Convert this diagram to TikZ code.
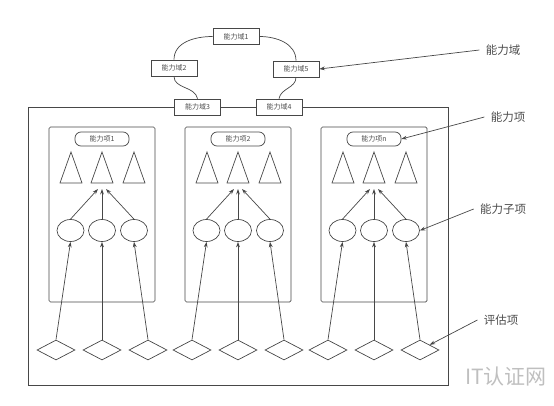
\documentclass[tikz,border=0pt]{standalone}
\usepackage[rgb]{xcolor}
\usepackage{fontspec}
\newfontfamily\cjk{Noto Sans CJK SC}
\usepackage{tikz}
\usetikzlibrary{shapes.geometric,arrows.meta}

\begin{document}
\begin{tikzpicture}[x=1pt, y=1pt, line width=0.7pt, draw=black!72, text=black!70,
  dom/.style={draw, fill=white, minimum width=46, minimum height=16, inner sep=0, font=\cjk\fontsize{7}{8}\selectfont},
  pill/.style={draw, rounded corners=6pt, minimum width=54, minimum height=14, inner sep=0, font=\cjk\fontsize{7}{8}\selectfont},
  sub/.style={draw, ellipse, minimum width=27, minimum height=22, inner sep=0},
  eval/.style={draw, diamond, minimum width=38, minimum height=20, inner sep=0},
  note/.style={font=\cjk\fontsize{11.5}{13}\selectfont, inner sep=6pt},
  arr/.style={-{Stealth[length=5.5pt, width=3.8pt]}, draw=black!72}]

\useasboundingbox (0,0) rectangle (554,405);

% outer frame of the capability model
\draw (28,20) rectangle (448,298);

% ring of capability domains on top
\path
(236,368.5) node[dom] (dom1) {能力域1}
(174,337) node[dom] (dom2) {能力域2}
(296,336) node[dom] (dom5) {能力域5}
(197.5,298) node[dom] (dom3) {能力域3}
(279,298) node[dom] (dom4) {能力域4};
\draw (dom1.west) to[out=180, in=90] (dom2.north);
\draw (dom2.south) to[out=-90, in=100] (dom3.north);
\draw (dom3) -- (dom4);
\draw (dom4.north) to[out=80, in=-90] (dom5.south);
\draw (dom5.north) to[out=90, in=0] (dom1.east);

% three capability items, each with sub items and evaluation items
\foreach \x/\n/\t in {102/1/1, 238/2/2, 374/3/n} {
  \draw[rounded corners=1.5pt] (\x-53,103) rectangle (\x+53,278);
  \node[pill] (pill\n) at (\x,266) {能力项\t};
  \draw (\x-42,222) -- (\x-31,253) -- (\x-20,222) -- cycle;
  \draw (\x-11,222) -- (\x,253) -- (\x+11,222) -- cycle;
  \draw (\x+21,222) -- (\x+32,253) -- (\x+43,222) -- cycle;
  \coordinate (tri\n-1) at (\x-4,216);
  \coordinate (tri\n-2) at (\x,216);
  \coordinate (tri\n-3) at (\x+4,216);
  \node[sub] (ell\n-1) at (\x-31.5,174.5) {};
  \node[sub] (ell\n-2) at (\x,174.5) {};
  \node[sub] (ell\n-3) at (\x+32,174.5) {};
  \node[eval] (dia\n-1) at (\x-46,55) {};
  \node[eval] (dia\n-2) at (\x,55) {};
  \node[eval] (dia\n-3) at (\x+46,55) {};
  \draw[arr] (ell\n-1.north) -- (tri\n-1);
  \draw[arr] (ell\n-2.north) -- (tri\n-2);
  \draw[arr] (ell\n-3.north) -- (tri\n-3);
  \draw[arr] (dia\n-1.north) -- (ell\n-1.south);
  \draw[arr] (dia\n-2.north) -- (ell\n-2.south);
  \draw[arr] (dia\n-3.north) -- (ell\n-3.south);
}

% notes on the right
\node[note] (lblDom) at (503,355) {能力域};
\node[note] (lblItem) at (508,288) {能力项};
\node[note] (lblSub) at (503,196) {能力子项};
\node[note] (lblEval) at (501,85) {评估项};
\draw[arr] (lblDom.west) -- (dom5.east);
\draw[arr] (lblItem.west) -- (pill3.east);
\draw[arr] (lblSub.west) -- (ell3-3.east);
\draw[arr] (lblEval.west) -- (dia3-3.north east);

\node[text=black!25, font=\cjk\fontsize{21}{22}\selectfont] (mark) at (506,28) {IT认证网};

\end{tikzpicture}
\end{document}
